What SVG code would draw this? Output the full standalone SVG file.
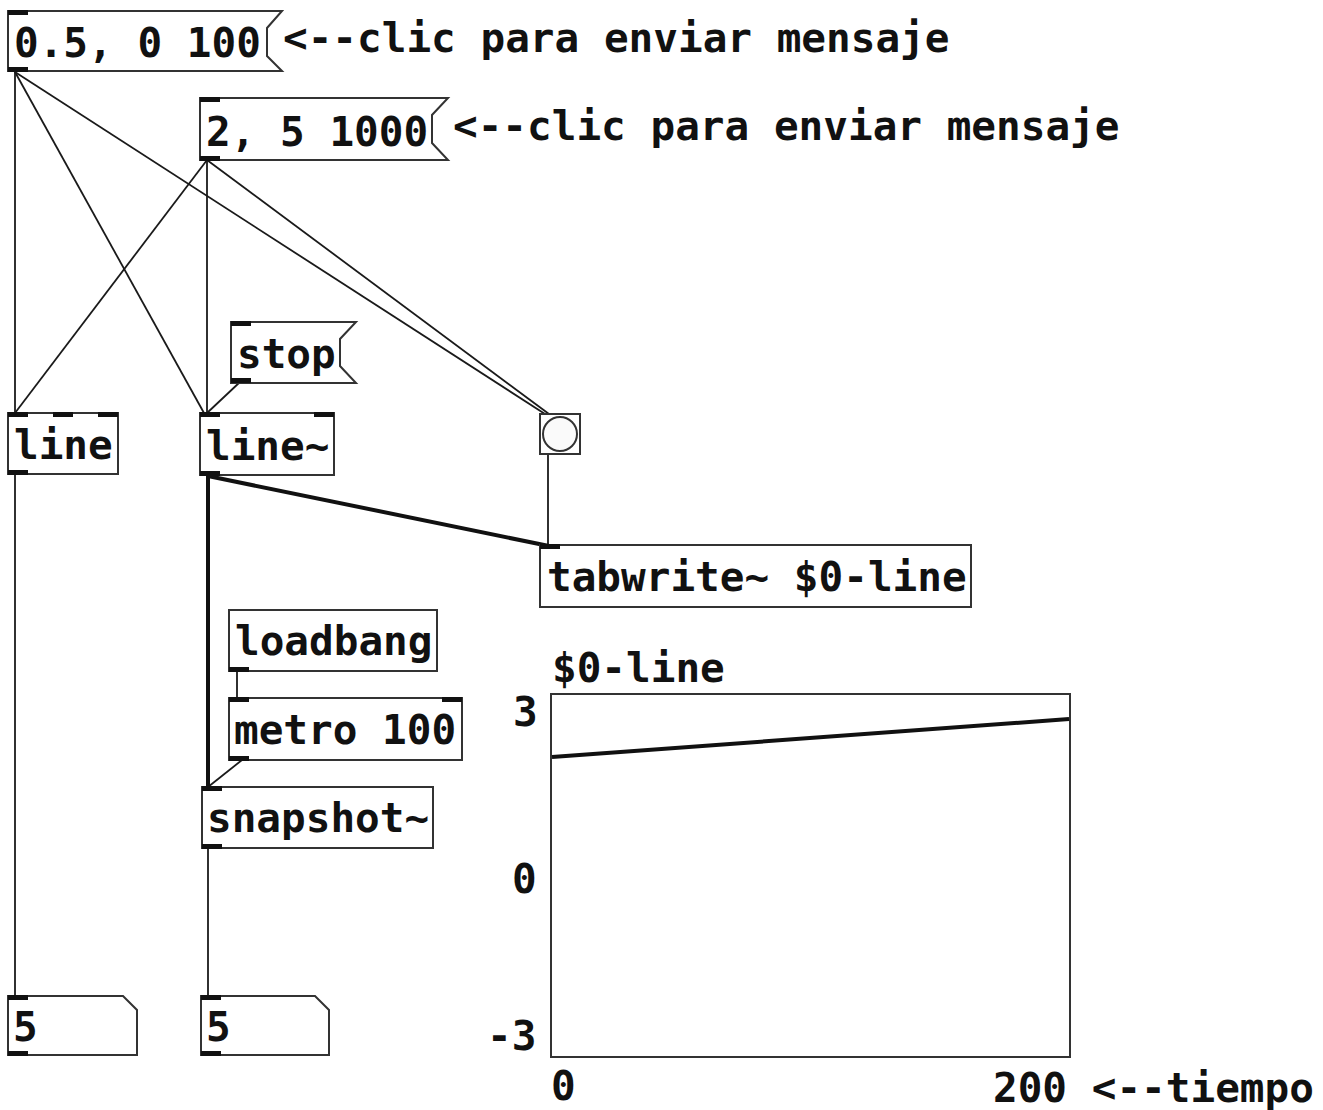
<svg xmlns="http://www.w3.org/2000/svg" width="1323" height="1110" viewBox="0 0 1323 1110">
  <style>
    text { font-family: "DejaVu Sans Mono", "Liberation Mono", monospace; font-weight: bold; font-size: 41px; fill: #111; }
    .box { fill: #fff; stroke: #333; stroke-width: 2; }
    .port { fill: #111; }
    .ctl { stroke: #1a1a1a; stroke-width: 1.8; fill: none; }
    .sig { stroke: #111; stroke-width: 4; fill: none; }
  </style>

  <!-- connections -->
  <g id="connections">
    <line class="ctl" x1="15" y1="72" x2="15" y2="413"/>
    <line class="ctl" x1="15" y1="72" x2="204" y2="413"/>
    <line class="ctl" x1="15" y1="72" x2="545" y2="414"/>
    <line class="ctl" x1="207" y1="160" x2="15" y2="413"/>
    <line class="ctl" x1="207" y1="160" x2="207" y2="413"/>
    <line class="ctl" x1="207" y1="160" x2="549" y2="414"/>
    <line class="ctl" x1="240" y1="382" x2="207" y2="413"/>
    <line class="ctl" x1="15" y1="475" x2="15" y2="996"/>
    <line class="ctl" x1="548" y1="454" x2="548" y2="545"/>
    <line class="ctl" x1="237" y1="671" x2="237" y2="698"/>
    <line class="ctl" x1="242" y1="760" x2="208" y2="787"/>
    <line class="ctl" x1="208" y1="848" x2="208" y2="996"/>
    <line class="sig" x1="208" y1="476" x2="208" y2="787"/>
    <line class="sig" x1="208" y1="476" x2="549" y2="546"/>
  </g>

  <!-- message: 0.5, 0 100 -->
  <g id="msg1">
    <polygon class="box" points="8,11 282,11 267,28 267,56 282,71 8,71"/>
    <rect class="port" x="8" y="10" width="20" height="5"/>
    <rect class="port" x="8" y="67" width="20" height="5"/>
    <text x="14" y="57">0.5, 0 100</text>
  </g>
  <g id="comment1"><text x="283" y="52">&lt;--clic para enviar mensaje</text></g>

  <!-- message: 2, 5 1000 -->
  <g id="msg2">
    <polygon class="box" points="200,98 448,98 432,115 432,143 448,160 200,160"/>
    <rect class="port" x="200" y="97" width="20" height="5"/>
    <rect class="port" x="200" y="156" width="20" height="5"/>
    <text x="206" y="146">2, 5 1000</text>
  </g>
  <g id="comment2"><text x="453" y="140">&lt;--clic para enviar mensaje</text></g>

  <!-- message: stop -->
  <g id="stop">
    <polygon class="box" points="231,322 356,322 340,339 340,366 356,383 231,383"/>
    <rect class="port" x="231" y="321" width="20" height="5"/>
    <rect class="port" x="231" y="378" width="20" height="5"/>
    <text x="237" y="368">stop</text>
  </g>

  <!-- line -->
  <g id="line">
    <rect class="box" x="8" y="413" width="110" height="61"/>
    <rect class="port" x="8" y="412" width="20" height="5"/>
    <rect class="port" x="53" y="412" width="20" height="5"/>
    <rect class="port" x="98" y="412" width="20" height="5"/>
    <rect class="port" x="8" y="470" width="20" height="5"/>
    <text x="14" y="459">line</text>
  </g>

  <!-- line~ -->
  <g id="line-sig">
    <rect class="box" x="200" y="413" width="134" height="62"/>
    <rect class="port" x="200" y="412" width="20" height="5"/>
    <rect class="port" x="314" y="412" width="20" height="5"/>
    <rect class="port" x="200" y="471" width="20" height="5"/>
    <text x="206" y="460">line~</text>
  </g>

  <!-- bang -->
  <g id="bang">
    <rect class="box" x="540" y="414" width="40" height="40"/>
    <circle cx="560" cy="434" r="17" fill="#fafafa" stroke="#333" stroke-width="2"/>
  </g>

  <!-- tabwrite~ -->
  <g id="tabwrite">
    <rect class="box" x="540" y="545" width="431" height="62"/>
    <rect class="port" x="540" y="544" width="20" height="5"/>
    <text x="547" y="591">tabwrite~ $0-line</text>
  </g>

  <!-- loadbang -->
  <g id="loadbang">
    <rect class="box" x="229" y="610" width="208" height="61"/>
    <rect class="port" x="229" y="667" width="20" height="5"/>
    <text x="235" y="655">loadbang</text>
  </g>

  <!-- metro 100 -->
  <g id="metro">
    <rect class="box" x="229" y="698" width="233" height="62"/>
    <rect class="port" x="229" y="697" width="20" height="5"/>
    <rect class="port" x="442" y="697" width="20" height="5"/>
    <rect class="port" x="229" y="756" width="20" height="5"/>
    <text x="234" y="744">metro 100</text>
  </g>

  <!-- snapshot~ -->
  <g id="snapshot">
    <rect class="box" x="202" y="787" width="231" height="61"/>
    <rect class="port" x="202" y="786" width="20" height="5"/>
    <rect class="port" x="202" y="844" width="20" height="5"/>
    <text x="207" y="832">snapshot~</text>
  </g>

  <!-- number boxes -->
  <g id="num1">
    <polygon class="box" points="8,996 123,996 137,1010 137,1055 8,1055"/>
    <rect class="port" x="8" y="995" width="20" height="5"/>
    <rect class="port" x="8" y="1051" width="20" height="5"/>
    <text x="13" y="1041">5</text>
  </g>
  <g id="num2">
    <polygon class="box" points="201,996 315,996 329,1010 329,1055 201,1055"/>
    <rect class="port" x="201" y="995" width="20" height="5"/>
    <rect class="port" x="201" y="1051" width="20" height="5"/>
    <text x="206" y="1041">5</text>
  </g>

  <!-- array graph $0-line -->
  <g id="array">
    <text x="552" y="682">$0-line</text>
    <rect class="box" x="551" y="694" width="519" height="363"/>
    <line x1="552" y1="757" x2="1069" y2="719" stroke="#111" stroke-width="4"/>
    <text x="513" y="726">3</text>
    <text x="512" y="893">0</text>
    <text x="487" y="1050">-3</text>
    <text x="551" y="1100">0</text>
    <text x="993" y="1102">200 &lt;--tiempo</text>
  </g>
</svg>
